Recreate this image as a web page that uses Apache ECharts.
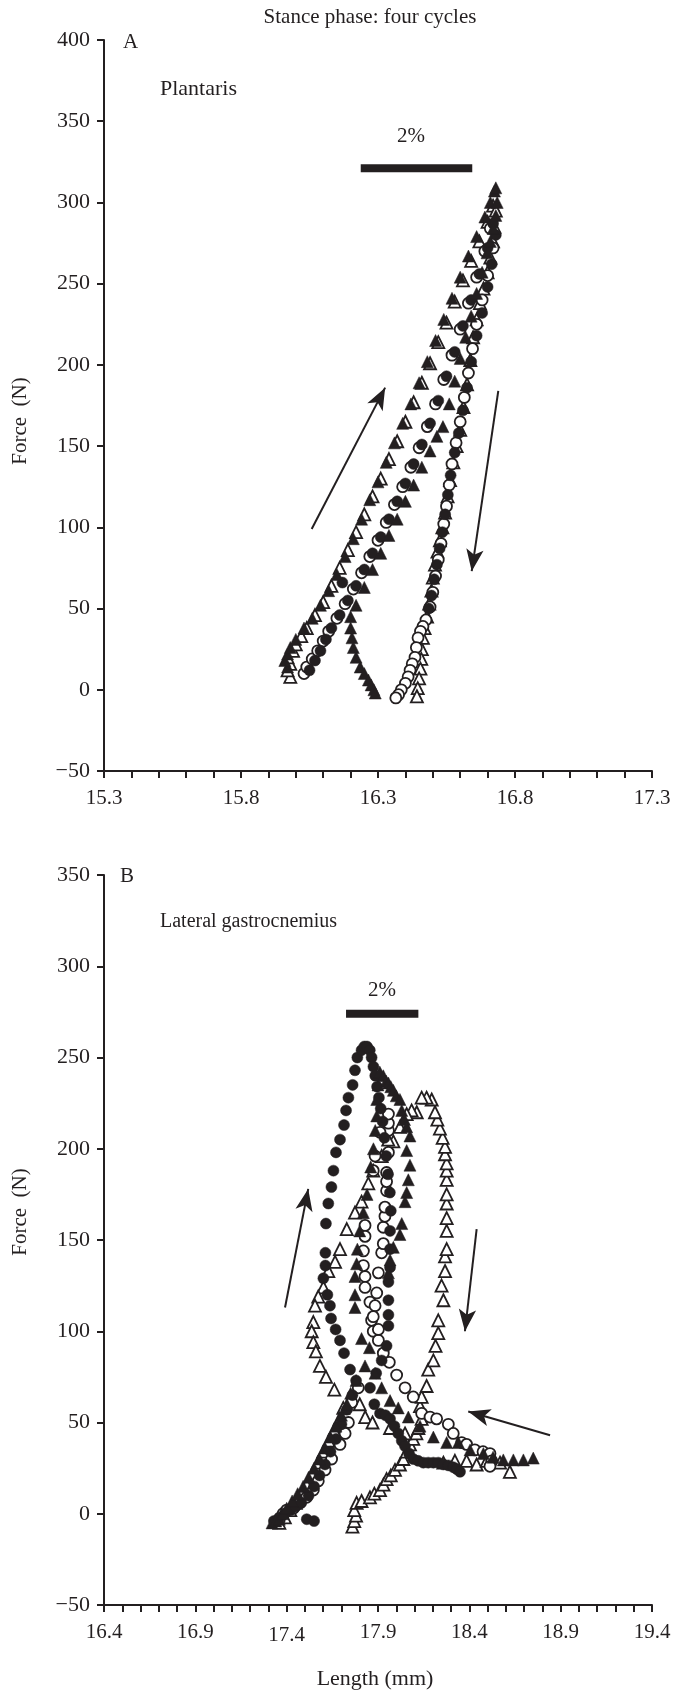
<!DOCTYPE html>
<html><head><meta charset="utf-8">
<script src="https://cdn.jsdelivr.net/npm/echarts@6/dist/echarts.min.js"></script>
<style>html,body{margin:0;padding:0;background:#fff}#c{width:674px;height:1693px}</style>
</head><body><div id="c"></div><script>
// ---------- Panel A: Plantaris (length mm, force N) ----------
const plantarisFilledTriangles = [[15.97,14],[15.96,18],[15.97,22],[15.98,26],[16.00,31],[16.03,38],[16.06,44],[16.09,52],[16.12,61],[16.15,71],[16.18,82],[16.21,93],[16.24,105],[16.27,117],[16.30,128],[16.33,140],[16.36,152],[16.39,164],[16.42,176],[16.45,189],[16.48,202],[16.51,215],[16.54,228],[16.57,241],[16.60,254],[16.63,267],[16.66,279],[16.69,291],[16.71,300],[16.725,307],[16.73,309],[16.735,300],[16.73,292],[16.72,284],[16.71,276],[16.698,269],[16.68,257],[16.66,244],[16.64,230],[16.62,217],[16.60,204],[16.58,190],[16.56,176],[16.537,162],[16.515,156],[16.49,147],[16.46,137],[16.43,126],[16.40,116],[16.37,105],[16.34,95],[16.31,84],[16.28,74],[16.25,63],[16.22,52],[16.20,45],[16.20,38],[16.205,32],[16.21,26],[16.22,20],[16.235,14],[16.25,10],[16.265,6],[16.275,3],[16.285,0],[16.29,-2]];
const plantarisOpenTriangles = [[15.98,8],[15.97,12],[15.98,16],[15.97,20],[15.99,24],[16.00,28],[16.02,33],[16.04,38],[16.07,46],[16.10,54],[16.13,64],[16.16,75],[16.19,86],[16.22,97],[16.25,108],[16.28,119],[16.31,130],[16.34,142],[16.37,153],[16.40,165],[16.43,177],[16.46,189],[16.49,201],[16.52,214],[16.55,226],[16.58,239],[16.61,252],[16.64,264],[16.67,276],[16.70,288],[16.72,298],[16.73,295],[16.725,285],[16.72,276],[16.71,266],[16.70,257],[16.685,247],[16.672,238],[16.66,228],[16.647,217],[16.637,203],[16.625,188],[16.612,174],[16.60,160],[16.587,150],[16.575,140],[16.563,129],[16.554,119],[16.545,109],[16.535,100],[16.526,92],[16.517,85],[16.508,77],[16.50,69],[16.495,61],[16.487,53],[16.479,45],[16.47,38],[16.464,32],[16.46,25],[16.458,19],[16.455,13],[16.45,7],[16.445,1],[16.442,-4]];
const plantarisFilledCircles = [[16.05,12],[16.07,18],[16.09,24],[16.11,31],[16.13,38],[16.16,46],[16.17,66],[16.19,55],[16.22,64],[16.25,74],[16.28,84],[16.31,94],[16.34,105],[16.37,116],[16.40,127],[16.43,139],[16.46,151],[16.49,164],[16.52,178],[16.55,193],[16.58,208],[16.61,224],[16.64,240],[16.67,256],[16.70,272],[16.72,287],[16.73,280],[16.715,262],[16.70,248],[16.68,232],[16.66,218],[16.64,202],[16.625,186],[16.61,172],[16.595,158],[16.58,146],[16.565,132],[16.555,120],[16.545,108],[16.535,97],[16.525,87],[16.515,77],[16.505,68],[16.495,58],[16.485,50]];
const plantarisOpenCircles = [[16.03,10],[16.04,14],[16.06,19],[16.08,24],[16.10,30],[16.12,36],[16.15,44],[16.18,53],[16.21,62],[16.24,72],[16.27,82],[16.30,92],[16.33,103],[16.36,114],[16.39,125],[16.42,137],[16.45,149],[16.48,162],[16.51,176],[16.54,191],[16.57,206],[16.60,222],[16.63,238],[16.66,254],[16.69,270],[16.71,284],[16.72,272],[16.70,255],[16.68,240],[16.66,225],[16.645,210],[16.63,195],[16.615,180],[16.60,165],[16.585,152],[16.57,139],[16.56,126],[16.55,113],[16.54,102],[16.53,90],[16.52,80],[16.51,70],[16.50,60],[16.49,51],[16.475,43],[16.464,39],[16.455,36],[16.446,32],[16.44,26],[16.435,20],[16.425,16],[16.417,12],[16.41,8],[16.40,4],[16.385,0],[16.375,-3],[16.365,-5]];

// ---------- Panel B: Lateral gastrocnemius ----------
const lgFilledTriangles = [[17.32,-5],[17.34,-4],[17.36,-3],[17.38,0],[17.40,3],[17.43,7],[17.46,11],[17.49,15],[17.52,20],[17.55,25],[17.58,30],[17.61,36],[17.64,42],[17.67,48],[17.70,54],[17.73,60],[17.75,66],[17.78,73],[17.829,81],[17.853,91],[17.81,96],[17.774,113],[17.774,120],[17.774,130],[17.783,137],[17.787,145],[17.80,155],[17.82,165],[17.84,175],[17.86,190],[17.875,200],[17.885,210],[17.893,218],[17.893,227],[17.90,235],[17.91,242],[17.929,240],[17.945,237],[17.957,236],[17.97,234],[17.984,232],[18.00,229],[18.02,227],[18.03,221],[18.045,216],[18.057,212],[18.075,207],[18.057,199],[18.075,191],[18.066,183],[18.057,176],[18.048,171],[18.03,159],[18.02,153],[17.984,146],[17.966,139],[17.957,132],[17.884,77],[17.92,69],[17.966,62],[18.011,58],[18.066,53],[18.13,48],[18.203,42],[18.276,39],[18.34,39],[18.404,35],[18.477,33],[18.53,31],[18.586,29.5],[18.641,29.5],[18.696,29.5],[18.75,30.5]];
const lgOpenTriangles = [[17.76,-7],[17.77,-4],[17.78,-1],[17.77,2],[17.783,6],[17.81,7],[17.856,9],[17.88,11],[17.911,13],[17.93,16],[17.947,19],[17.97,21],[17.993,24],[18.02,27],[18.039,30],[18.057,34],[18.075,38],[18.093,41],[18.11,44],[18.121,47],[18.139,52],[18.13,59],[18.139,64],[18.166,70],[18.175,79],[18.203,84],[18.215,92],[18.23,99],[18.23,106],[18.258,117],[18.248,125],[18.267,133],[18.267,141],[18.276,145],[18.276,155],[18.276,162],[18.276,170],[18.276,175],[18.276,183],[18.276,188],[18.276,192],[18.267,197],[18.267,201],[18.254,206],[18.239,211],[18.225,216],[18.212,220],[18.194,227],[18.166,228],[18.139,228],[18.112,220],[18.084,221],[18.057,219],[18.039,213],[18.02,212],[17.984,204],[17.956,205],[17.92,196],[17.874,188],[17.847,181],[17.81,171],[17.774,165],[17.729,156],[17.692,145],[17.665,138],[17.628,133],[17.601,124],[17.573,119],[17.555,114],[17.546,105],[17.537,100],[17.546,94],[17.56,89],[17.582,81],[17.615,75],[17.661,68],[17.71,58],[17.69,52],[17.66,46],[17.63,40],[17.60,34],[17.57,28],[17.54,22],[17.51,16],[17.48,11],[17.45,6],[17.42,2],[17.39,-2],[17.36,-5],[17.80,60],[17.83,53],[17.87,50],[17.966,47],[18.048,44],[18.258,28],[18.321,29],[18.385,29],[18.44,27],[18.495,29],[18.568,28],[18.622,23]];
const lgFilledCircles = [[17.33,-4],[17.36,-2],[17.39,0],[17.42,2],[17.45,4],[17.48,6],[17.51,-3],[17.55,-4],[17.52,10],[17.55,15],[17.58,21],[17.61,27],[17.64,34],[17.67,41],[17.70,49],[17.73,57],[17.76,65],[17.78,73],[17.747,79],[17.714,88],[17.692,95],[17.668,101],[17.643,107],[17.637,114],[17.623,120],[17.601,129],[17.612,136],[17.612,143],[17.615,159],[17.628,170],[17.645,179],[17.656,188],[17.67,198],[17.692,205],[17.714,213],[17.725,221],[17.738,228],[17.761,235],[17.774,243],[17.787,250],[17.81,254],[17.825,256],[17.84,256],[17.855,254],[17.865,250],[17.875,245],[17.885,240],[17.895,234],[17.905,228],[17.915,222],[17.925,215],[17.935,206],[17.945,196],[17.955,186],[17.965,176],[17.97,166],[17.966,155],[17.966,145],[17.966,135],[17.957,127],[17.957,117],[17.957,109],[17.957,103],[17.947,92],[17.92,84],[17.89,77],[17.856,69],[17.88,60],[17.911,55],[17.94,54],[17.966,52],[17.99,48],[18.011,44],[18.03,40],[18.048,37],[18.07,33],[18.093,30],[18.12,29],[18.148,28],[18.175,28],[18.203,28],[18.23,28],[18.258,27],[18.285,26.5],[18.312,25.5],[18.33,24.5],[18.349,23]];
const lgOpenCircles = [[17.36,-3],[17.38,0],[17.40,2],[17.437,3],[17.473,6],[17.509,9],[17.546,13],[17.573,18],[17.61,24],[17.646,30],[17.692,38],[17.72,44],[17.738,50],[17.756,61],[17.792,69],[17.829,130],[17.829,124],[17.856,116],[17.865,106],[17.874,100],[17.902,95],[17.929,88],[17.962,83],[18.002,76],[18.048,69],[18.093,64],[18.139,55],[18.185,53],[18.221,52],[18.285,49],[18.312,44],[18.358,39],[18.385,38],[18.43,35],[18.475,34],[18.513,33],[18.522,29],[18.513,26],[17.829,158],[17.829,152],[17.82,144],[17.82,136],[17.902,132],[17.893,121],[17.884,114],[17.874,108],[17.902,101],[17.92,143],[17.929,148],[17.929,157],[17.938,163],[17.938,168],[17.947,177],[17.947,182],[17.947,187],[17.957,198],[17.957,210],[17.957,214],[17.957,219],[17.911,209],[17.884,196],[17.874,188]];

// ---------- axes / tick labels ----------
const forceTicksA = [-50, 0, 50, 100, 150, 200, 250, 300, 350, 400];
const forceTicksB = [-50, 0, 50, 100, 150, 200, 250, 300, 350];
const lengthLabelsA = [15.3, 15.8, 16.3, 16.8, 17.3];
const lengthLabelsB = [16.4, 16.9, 17.4, 17.9, 18.4, 18.9, 19.4];

// annotations (data coordinates)
const scaleBarA = [[16.237, 321], [16.644, 321]];
const scaleBarB = [[17.725, 274], [18.121, 274]];
const arrowsA = [[[16.058, 99], [16.326, 186]], [[16.739, 184], [16.642, 73]]];
const arrowsB = [[[17.391, 113], [17.518, 178]], [[18.44, 156], [18.376, 100]], [[18.842, 43], [18.394, 56]]];

const INK = '#231f20';
const FONT = '"Liberation Serif", "Times New Roman", serif';

function allTicks(labels) {
  const out = [];
  const a = labels[0], b = labels[labels.length - 1];
  const n = Math.round((b - a) * 10);
  for (let i = 0; i <= n; i++) out.push(Math.round((a + i * 0.1) * 10) / 10);
  return out;
}

function xAxisCfg(gi, labels) {
  return {
    type: 'value', gridIndex: gi, min: labels[0], max: labels[labels.length - 1],
    axisLine: { show: true, onZero: false, lineStyle: { color: INK, width: 2 } },
    axisTick: { show: true, customValues: allTicks(labels), length: 7, lineStyle: { color: INK, width: 2 } },
    axisLabel: { show: true, customValues: labels, color: INK, fontFamily: FONT, fontSize: 21, margin: 17,
      formatter: v => { const s = (Math.round(v * 10) / 10).toFixed(1); return s === '17.4' ? '{low|' + s + '}' : s; },
      rich: { low: { fontFamily: FONT, fontSize: 21, color: INK, padding: [3, 0, 0, 0] } } },
    splitLine: { show: false }
  };
}
function yAxisCfg(gi, ticks) {
  return {
    type: 'value', gridIndex: gi, min: ticks[0], max: ticks[ticks.length - 1], interval: 50,
    axisLine: { show: true, onZero: false, lineStyle: { color: INK, width: 2 } },
    axisTick: { show: true, length: 7, lineStyle: { color: INK, width: 2 } },
    axisLabel: { color: INK, fontFamily: FONT, fontSize: 22, margin: 14,
      formatter: v => (v < 0 ? '\u2212' + Math.abs(v) : String(v)) },
    splitLine: { show: false }
  };
}

function pts(gi, data, symbol, filled, size) {
  return {
    type: 'scatter', xAxisIndex: gi, yAxisIndex: gi, data: data, symbol: symbol, symbolSize: size,
    itemStyle: filled ? { color: INK, borderColor: INK, borderWidth: 0.5, opacity: 1 }
                      : { color: '#fff', borderColor: INK, borderWidth: 1.8, opacity: 1 },
    silent: true
  };
}
function bar(gi, d) {
  return { type: 'line', xAxisIndex: gi, yAxisIndex: gi, data: d, symbol: 'none',
    lineStyle: { color: INK, width: 8, cap: 'butt' }, silent: true, z: 5 };
}
function arrows(gi, list) {
  return { type: 'scatter', xAxisIndex: gi, yAxisIndex: gi, data: [], silent: true,
    markLine: { silent: true, symbol: ['none', 'arrow'], symbolSize: [13, 22], animation: false,
      lineStyle: { color: INK, width: 2, type: 'solid' }, label: { show: false },
      data: list.map(s => [{ coord: s[0] }, { coord: s[1] }]) } };
}

const chart = echarts.init(document.getElementById('c'), null, { renderer: 'canvas' });
const txt = (x, y, t, size, extra) => ({ type: 'text', x: x, y: y, style: Object.assign({ text: t, fill: INK, font: size + 'px ' + FONT }, extra || {}) });

chart.setOption({
  animation: false,
  backgroundColor: '#fff',
  grid: [
    { left: 104, right: 22, top: 40, height: 731 },
    { left: 104, right: 22, top: 875, height: 730 }
  ],
  xAxis: [xAxisCfg(0, lengthLabelsA), xAxisCfg(1, lengthLabelsB)],
  yAxis: [yAxisCfg(0, forceTicksA), yAxisCfg(1, forceTicksB)],
  series: [
    bar(0, scaleBarA), bar(1, scaleBarB),
    arrows(0, arrowsA), arrows(1, arrowsB),
    pts(0, plantarisOpenTriangles, 'triangle', false, 12),
    pts(0, plantarisOpenCircles, 'circle', false, 11),
    pts(0, plantarisFilledCircles, 'circle', true, 11),
    pts(0, plantarisFilledTriangles, 'triangle', true, 12),
    pts(1, lgOpenTriangles, 'triangle', false, 12),
    pts(1, lgOpenCircles, 'circle', false, 11),
    pts(1, lgFilledCircles, 'circle', true, 11),
    pts(1, lgFilledTriangles, 'triangle', true, 12)
  ],
  graphic: [
    txt(370, 7, 'Stance phase: four cycles', 21, { textAlign: 'center' }),
    txt(123, 32, 'A', 21),
    txt(160, 78, 'Plantaris', 22),
    txt(411, 126, '2%', 21, { textAlign: 'center' }),
    txt(120, 866, 'B', 21),
    txt(160, 912, 'Lateral gastrocnemius', 20),
    txt(382, 980, '2%', 21, { textAlign: 'center' }),
    txt(375, 1668, 'Length (mm)', 22, { textAlign: 'center' }),
    { type: 'text', x: 20, y: 421, rotation: Math.PI / 2, style: { text: 'Force  (N)', fill: INK, font: '21px ' + FONT, textAlign: 'center', textVerticalAlign: 'middle' } },
    { type: 'text', x: 20, y: 1212, rotation: Math.PI / 2, style: { text: 'Force  (N)', fill: INK, font: '21px ' + FONT, textAlign: 'center', textVerticalAlign: 'middle' } }
  ]
});
</script></body></html>
